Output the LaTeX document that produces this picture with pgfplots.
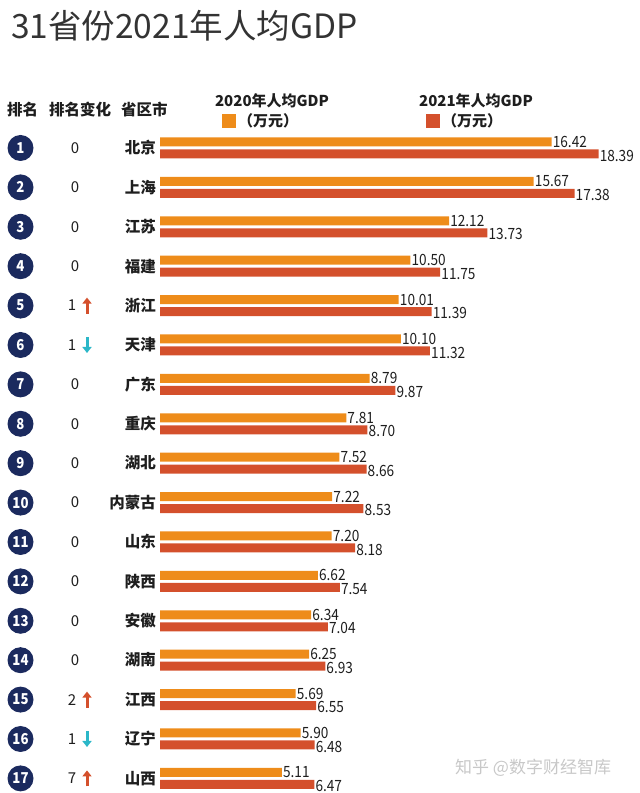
\documentclass[border=0pt]{standalone}
\usepackage{pgfplots}
\pgfplotsset{compat=1.18}
\usepackage{pgfplotstable}
\usepackage{fontspec}
\setmainfont{Noto Sans CJK SC}
\newfontfamily\numfont[FakeStretch=0.88]{Noto Sans CJK SC}
\usetikzlibrary{arrows.meta}
\definecolor{c20}{HTML}{EE8C1A}
\definecolor{c21}{HTML}{D4502C}
\definecolor{navy}{HTML}{1B2A5E}
\definecolor{upc}{HTML}{D4502C}
\definecolor{downc}{HTML}{2BB7C8}
\definecolor{txt}{HTML}{1E1E1E}
\definecolor{titlec}{HTML}{333333}
\definecolor{wm}{HTML}{C8C8C8}

\pgfplotstableread{
y  v20   v21
17 16.42 18.39
16 15.67 17.38
15 12.12 13.73
14 10.50 11.75
13 10.01 11.39
12 10.10 11.32
11 8.79  9.87
10 7.81  8.70
9  7.52  8.66
8  7.22  8.53
7  7.20  8.18
6  6.62  7.54
5  6.34  7.04
4  6.25  6.93
3  5.69  6.55
2  5.90  6.48
1  5.11  6.47
}\data

\begin{document}
\begin{tikzpicture}
\useasboundingbox (0pt,0pt) rectangle (640pt,793pt);
\begin{axis}[
  at={(0pt,0pt)}, anchor=south west, scale only axis,
  width=640pt, height=793pt,
  xmin=-6.7086, xmax=20.126, ymin=0.629, ymax=20.756,
  hide axis, clip=false, xbar, bar width=9pt,
  /pgf/number format/assume math mode=true,
  point meta=x,
  nodes near coords={\pgfmathprintnumber[fixed,fixed zerofill,precision=2]{\pgfplotspointmeta}},
  every node near coord/.append style={font=\numfont\fontsize{15.5}{15.5}\selectfont, text=txt, inner sep=1pt},
]
\addplot[fill=c20, draw=none, bar shift=6pt] table[x=v20,y=y]{\data};
\addplot[fill=c21, draw=none, bar shift=-6pt, every node near coord/.append style={yshift=-1.5pt}] table[x=v21,y=y]{\data};
\end{axis}
\begin{scope}[x=1pt,y=1pt]
\node[anchor=west, inner sep=0pt, font=\fontsize{33.5}{34}\selectfont, text=titlec] at (11,793-26) {31省份2021年人均GDP};
% header
\node[anchor=west, inner sep=0pt, font=\fontsize{15.5}{16}\selectfont\bfseries, text=txt] at (7,793-110) {排名};
\node[anchor=west, inner sep=0pt, font=\fontsize{15.5}{16}\selectfont\bfseries, text=txt] at (49,793-110) {排名变化};
\node[anchor=west, inner sep=0pt, font=\fontsize{15.5}{16}\selectfont\bfseries, text=txt] at (121,793-110) {省区市};
% legend
\node[inner sep=0pt, font=\fontsize{15}{16}\selectfont\bfseries, text=txt] at (272,793-101) {2020年人均GDP};
\fill[c20] (222,793-128) rectangle (236,793-114);
\node[anchor=west, inner sep=0pt, font=\fontsize{15}{16}\selectfont\bfseries, text=txt] at (238,793-121) {（万元）};
\node[inner sep=0pt, font=\fontsize{15}{16}\selectfont\bfseries, text=txt] at (476,793-101) {2021年人均GDP};
\fill[c21] (426,793-128) rectangle (440,793-114);
\node[anchor=west, inner sep=0pt, font=\fontsize{15}{16}\selectfont\bfseries, text=txt] at (442,793-121) {（万元）};
% rows
\foreach \r/\n/\c/\d in {1/北京/0/0, 2/上海/0/0, 3/江苏/0/0, 4/福建/0/0, 5/浙江/1/1, 6/天津/1/-1, 7/广东/0/0, 8/重庆/0/0, 9/湖北/0/0, 10/内蒙古/0/0, 11/山东/0/0, 12/陕西/0/0, 13/安徽/0/0, 14/湖南/0/0, 15/江西/2/1, 16/辽宁/1/-1, 17/山西/7/1} {
  \pgfmathsetmacro\yy{793-148-39.4*(\r-1)}
  \fill[navy] (20.5,\yy) circle (13pt);
  \node[text=white, inner sep=0pt, font=\numfont\fontsize{15}{15}\selectfont\bfseries] at (20.5,\yy) {\r};
  \ifnum\d=0
    \node[text=txt, inner sep=0pt, font=\fontsize{15}{15}\selectfont] at (75,\yy) {\c};
  \else
    \node[text=txt, inner sep=0pt, font=\fontsize{15}{15}\selectfont] at (72,\yy) {\c};
    \ifnum\d>0
      \draw[upc, line width=3pt, -{Triangle[width=9pt,length=6pt]}] (87,\yy-8) -- (87,\yy+8);
    \else
      \draw[downc, line width=3pt, -{Triangle[width=9pt,length=6pt]}] (87,\yy+8) -- (87,\yy-8);
    \fi
  \fi
  \node[anchor=east, inner sep=0pt, text=txt, font=\fontsize{15.5}{16}\selectfont\bfseries] at (156,\yy) {\n};
}
\node[anchor=west, inner sep=0pt, text=wm, font=\fontsize{17}{17}\selectfont] at (455,793-768) {知乎 @数字财经智库};
\end{scope}
\end{tikzpicture}
\end{document}
